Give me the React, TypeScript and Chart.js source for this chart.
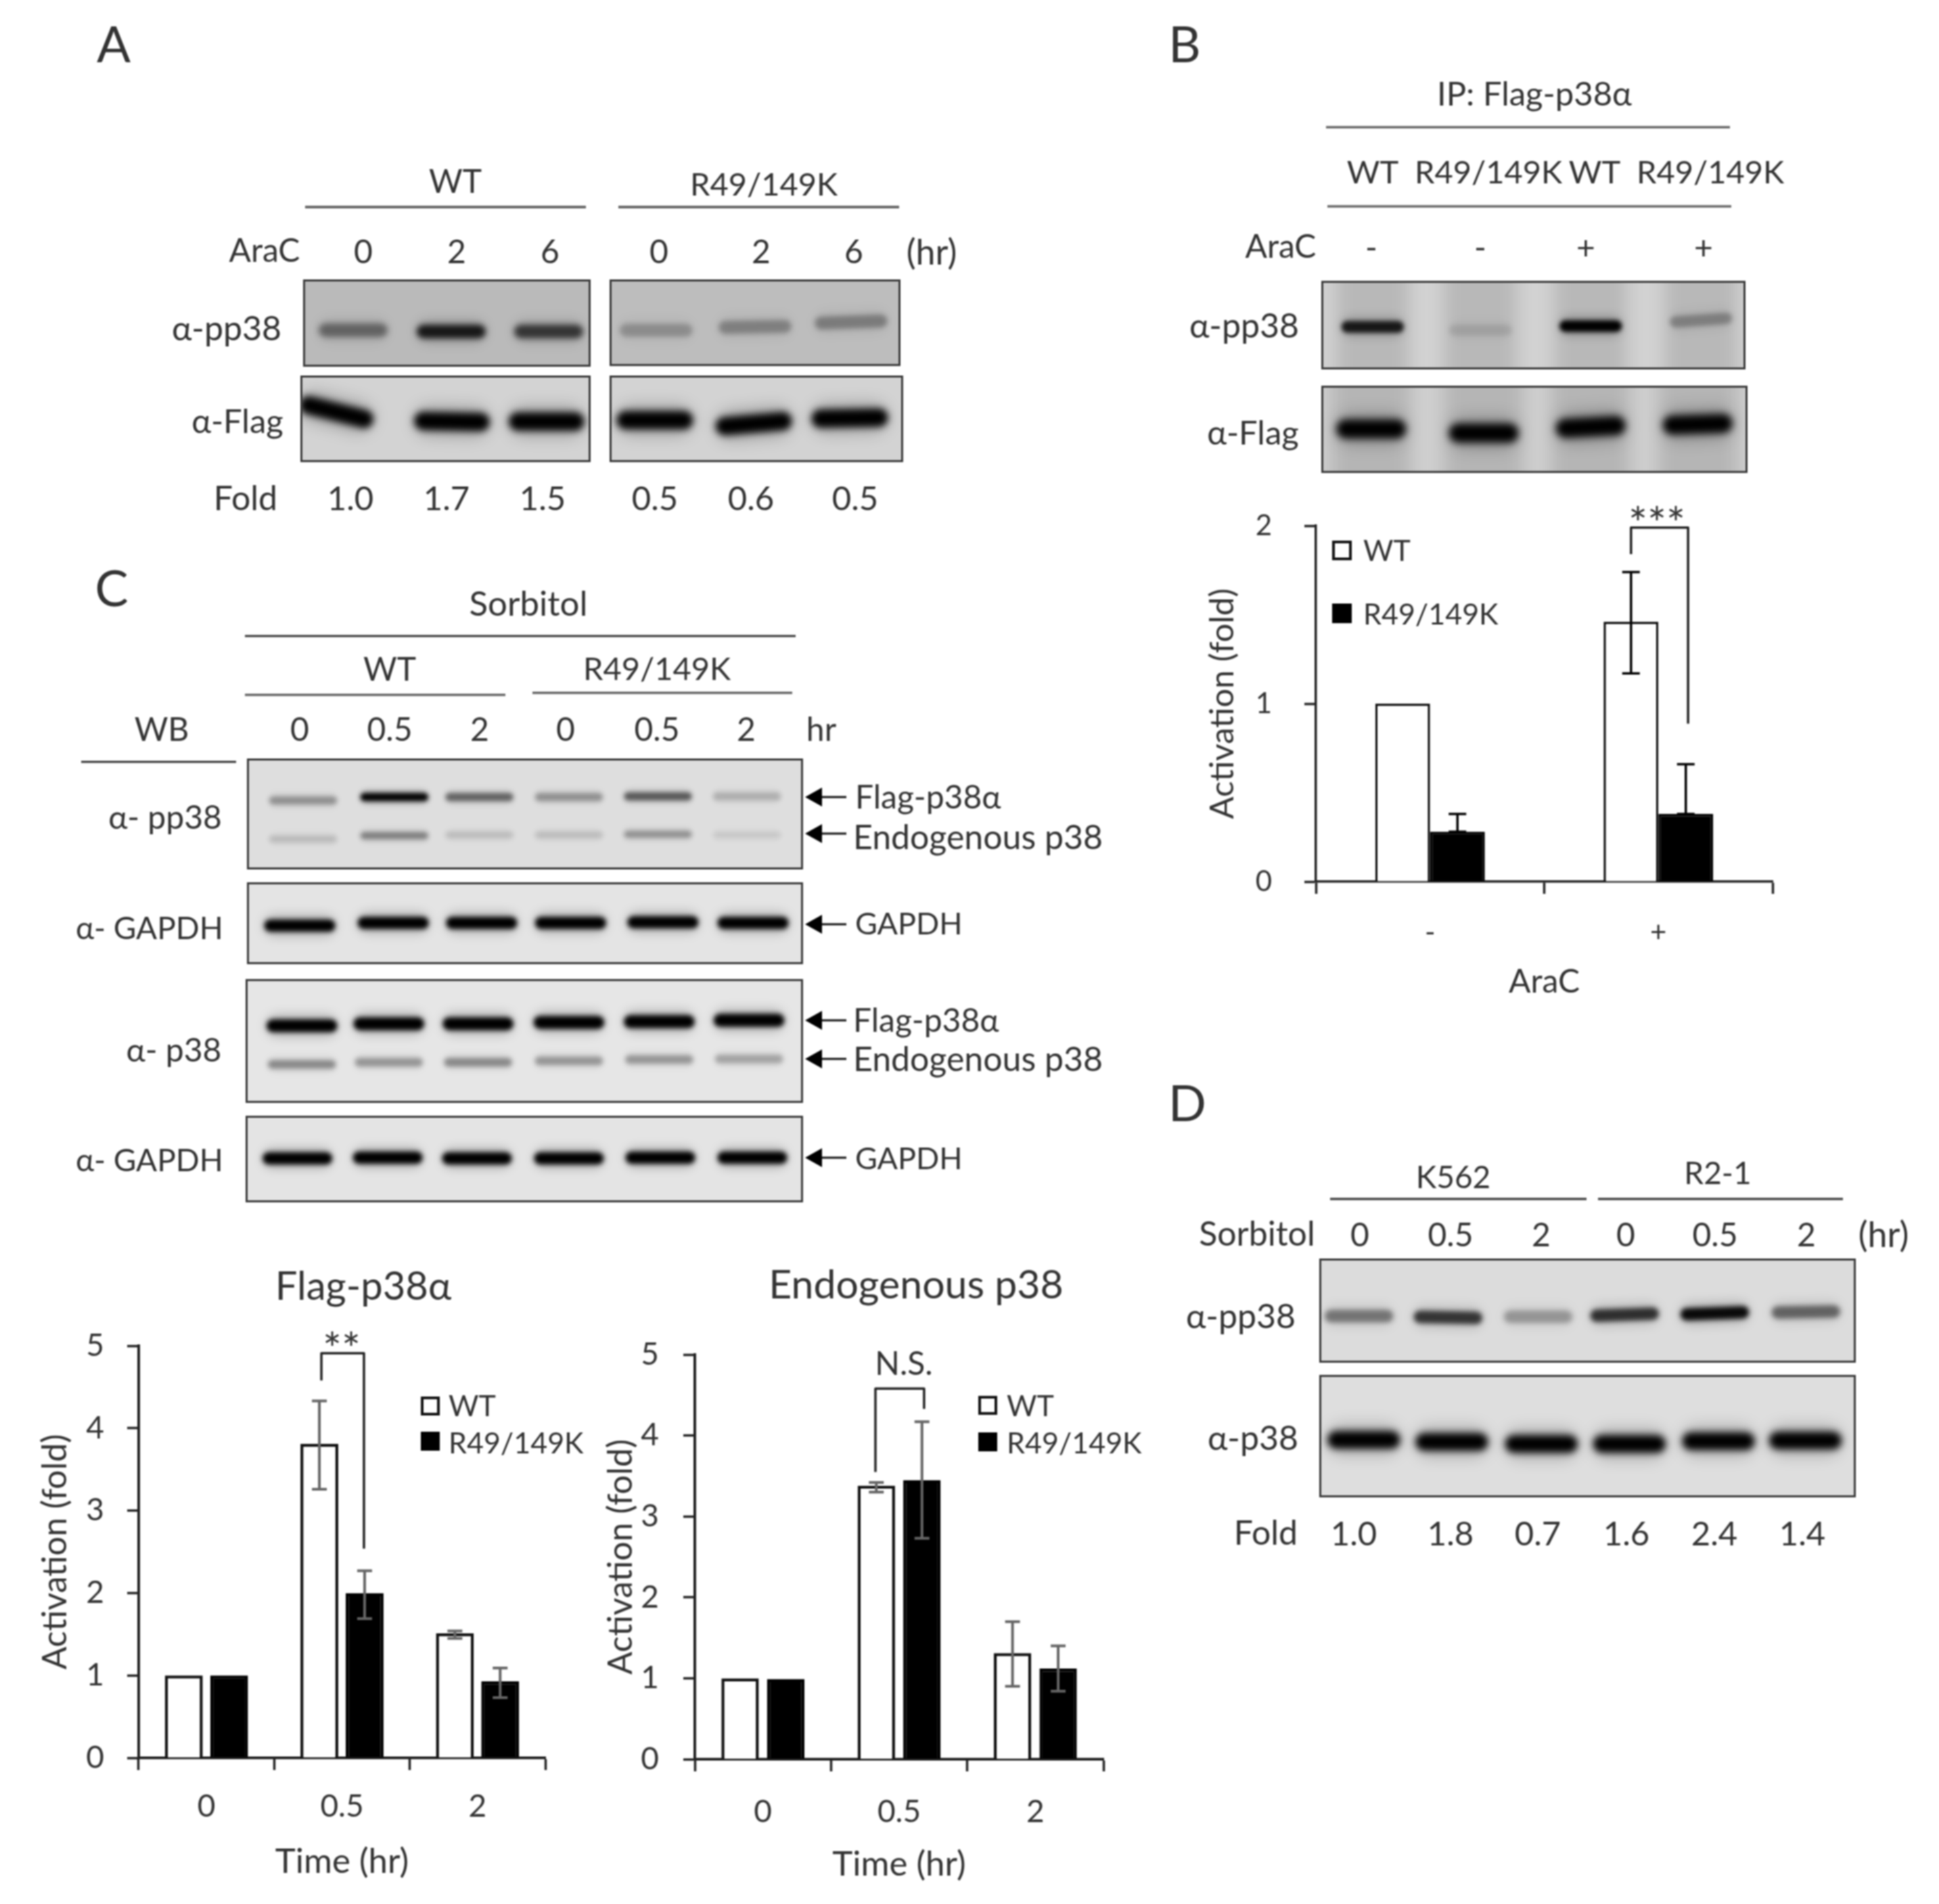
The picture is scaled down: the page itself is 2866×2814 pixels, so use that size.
import React, { useEffect, useRef } from "react";
import { Chart, registerables } from "chart.js";

Chart.register(...registerables);

const FONT = "Lato, 'Noto Sans', sans-serif";
const INK = "#333333";

// ---------- bar chart data ----------
const timeLabels = ["0", "0.5", "2"];
const araCLabels = ["-", "+"];
const seriesNames = ["WT", "R49/149K"];

const flagWT = [1.0, 3.81, 1.51];
const flagWTLow = [1.0, 3.26, 1.45];
const flagWTHigh = [1.0, 4.33, 1.54];
const flagMut = [1.0, 2.0, 0.93];
const flagMutLow = [1.0, 1.69, 0.73];
const flagMutHigh = [1.0, 2.27, 1.09];

const endoWT = [1.0, 3.38, 1.31];
const endoWTLow = [1.0, 3.3, 0.9];
const endoWTHigh = [1.0, 3.42, 1.7];
const endoMut = [0.99, 3.45, 1.12];
const endoMutLow = [0.99, 2.73, 0.84];
const endoMutHigh = [0.99, 4.17, 1.4];

const araWT = [1.0, 1.46];
const araWTLow = [1.0, 1.17];
const araWTHigh = [1.0, 1.74];
const araMut = [0.28, 0.38];
const araMutLow = [0.28, 0.38];
const araMutHigh = [0.38, 0.66];

// ---------- blot band data: [lane %, migration %, density] ----------
const bandsA1 = [[17.4, 58.1, 0.42], [51.5, 59.7, 0.85], [85.4, 59.7, 0.68]];
const bandsA2 = [[16.0, 58.6, 0.22], [50.0, 54.7, 0.28], [83.0, 49.2, 0.3]];
const bandsA3 = [[12.4, 42.2, 1], [52.2, 53.1, 1], [84.8, 53.1, 1]];
const bandsA4 = [[15.4, 51.6, 1], [49.1, 55.5, 1], [81.8, 49.2, 1]];
const bandsB1 = [[12.1, 52, 0.85], [37.5, 55.7, 0.1], [63.5, 51.1, 1], [89.5, 44.3, 0.27]];
const bandsB2 = [[11.7, 49.6, 1], [38.1, 54.3, 1], [63.2, 47.3, 1], [88.3, 44.2, 1]];
const bandsC1a = [[10.1, 37.8, 0.3], [26.5, 34.8, 1], [41.8, 34.8, 0.5], [57.9, 34.8, 0.3], [73.9, 34.1, 0.55], [89.9, 34.1, 0.18]];
const bandsC1b = [[10.1, 72.6, 0.13], [26.5, 69.5, 0.38], [41.8, 68.9, 0.12], [57.9, 68.9, 0.12], [73.9, 68.3, 0.3], [89.9, 68.9, 0.08]];
const bandsC2 = [[9.5, 52.9, 1], [26.3, 49.6, 1], [42.2, 49.6, 1], [58.2, 49.6, 1], [74.8, 48.8, 1], [91, 49.6, 1]];
const bandsC3a = [[10.1, 37.7, 1], [25.7, 36.1, 1], [41.7, 36.1, 1], [58, 35, 1], [74.2, 34.4, 1], [90.3, 33.3, 1]];
const bandsC3b = [[10.1, 68.9, 0.35], [25.7, 67.2, 0.3], [41.7, 67.2, 0.35], [58, 66.1, 0.3], [74.2, 65, 0.3], [90.3, 64.5, 0.25]];
const bandsC4 = [[9.3, 49.2, 1], [25.5, 48.4, 1], [41.5, 49.2, 1], [58, 49.2, 1], [74.4, 48.4, 1], [90.9, 48.4, 1]];
const bandsD1 = [[7.4, 55.2, 0.42], [24, 56.5, 0.72], [40.8, 55.8, 0.28], [56.9, 53.9, 0.75], [73.7, 52.6, 0.95], [90.7, 51.3, 0.5]];
const bandsD2 = [[8.3, 53, 1], [24.7, 54.7, 1], [41.4, 56.4, 1], [57.8, 56.4, 1], [74.4, 54.1, 1], [90.6, 53.6, 1]];

const tiltsA2 = [0, -1, -2];
const tiltsA3 = [14, 1, 0];
const tiltsA4 = [0, -5, -1];
const tiltsB1 = [0, 0, 0, -4];
const tiltsB2 = [0, 0, -3, -2];
const tiltsD1 = [0, 1, 0, -2, -2, -1];

// ---------- text ----------
const aTimes = ["0", "2", "6", "0", "2", "6"];
const aFold = ["1.0", "1.7", "1.5", "0.5", "0.6", "0.5"];
const bMutants = ["WT", "R49/149K", "WT", "R49/149K"];
const bAraC = ["-", "-", "+", "+"];
const cTimes = ["0", "0.5", "2", "0", "0.5", "2"];
const dTimes = ["0", "0.5", "2", "0", "0.5", "2"];
const dFold = ["1.0", "1.8", "0.7", "1.6", "2.4", "1.4"];

type Lab = [string, number, number, number?];
const S = 48;
const zip = (t: string[], xs: number[], y: number, size?: number): Lab[] => t.map((s, i) => [s, xs[i], y, size] as Lab);

const labels: Lab[] = [
  ["A", 168, 64, 74], ["B", 1751, 64, 74], ["C", 165, 868, 74], ["D", 1755, 1629, 74],
  // A
  ["WT", 673, 267], ["R49/149K", 1129, 271, 47], ["AraC", 391, 369],
  ...zip(aTimes, [537, 675, 813, 974, 1125, 1262], 371), ["(hr)", 1377, 371, 52],
  ["α-pp38", 335, 484, 50], ["α-Flag", 351, 621, 49], ["Fold", 363, 735, 50],
  ...zip(aFold, [518, 660, 802, 968, 1110, 1264], 735, 49),
  // B
  ["IP: Flag-p38α", 2268, 137, 49],
  ...zip(bMutants, [2029, 2200, 2357, 2528], 253, 47),
  ["AraC", 1893, 363], ...zip(bAraC, [2027, 2188, 2344, 2518], 365),
  ["α-pp38", 1839, 480, 50], ["α-Flag", 1852, 638, 49],
  // C
  ["Sorbitol", 781, 890, 51], ["WT", 576, 988], ["R49/149K", 971, 987, 47], ["WB", 239, 1077],
  ...zip(cTimes, [443, 576, 709, 836, 971, 1103], 1077), ["hr", 1214, 1077],
  ["α- pp38", 244, 1207, 48], ["α- GAPDH", 221, 1371, 46], ["α- p38", 257, 1551, 48], ["α- GAPDH", 221, 1714, 46],
  // D
  ["K562", 2148, 1739, 46], ["R2-1", 2539, 1733, 46], ["Sorbitol", 1858, 1822, 50],
  ...zip(dTimes, [2010, 2144, 2278, 2403, 2535, 2670], 1824), ["(hr)", 2784, 1823, 52],
  ["α-pp38", 1834, 1944, 50], ["α-p38", 1852, 2124, 50], ["Fold", 1871, 2264, 50],
  ...zip(dFold, [2001, 2144, 2273, 2404, 2534, 2664], 2265, 49),
  // chart titles and significance marks
  ["Flag-p38α", 537, 1899, 58], ["Endogenous p38", 1354, 1896, 59],
  ["**", 505, 1993, 66], ["N.S.", 1336, 2014, 48], ["***", 2449, 773, 66],
];

const arrowLabels: Lab[] = [
  ["Flag-p38α", 1264, 1177, 48], ["Endogenous p38", 1261, 1236, 50], ["GAPDH", 1264, 1364, 45],
  ["Flag-p38α", 1261, 1507, 48], ["Endogenous p38", 1261, 1564, 50], ["GAPDH", 1264, 1711, 45],
];
const arrowRows = [1178, 1232, 1366, 1508, 1565, 1711];

// x1, x2, y, colour, width
const rules: [number, number, number, string, number][] = [
  [451, 866, 306, "#666", 4], [914, 1329, 306, "#666", 4],
  [1960, 2557, 188, "#666", 3.5], [1962, 2559, 305, "#666", 3.5],
  [362, 1176, 940, "#333", 3], [362, 747, 1027, "#666", 3.5], [787, 1171, 1024, "#666", 3.5],
  [120, 349, 1126, "#333", 3], [1966, 2345, 1772, "#444", 3.5], [2362, 2724, 1772, "#444", 3.5],
];

// legend: box x, box y (WT), box y (mutant), box size, text x, text y (WT), text y (mutant)
const legends = [
  [622, 2064, 2116, 28, 663, 2076, 2131],
  [1446, 2063, 2117, 28, 1488, 2076, 2131],
  [1969, 799, 892, 29, 2015, 812, 906],
];

// ---------- plugins ----------
const errorBars = (color: string, cap: number, width: number) => ({
  id: "errorBars",
  afterDatasetsDraw(chart: any) {
    const { ctx, scales } = chart;
    ctx.save();
    ctx.strokeStyle = color;
    ctx.lineWidth = width;
    chart.data.datasets.forEach((ds: any, i: number) => {
      chart.getDatasetMeta(i).data.forEach((bar: any, j: number) => {
        if (ds.errLow[j] === ds.errHigh[j]) return;
        const lo = scales.y.getPixelForValue(ds.errLow[j]);
        const hi = scales.y.getPixelForValue(ds.errHigh[j]);
        ctx.beginPath();
        ctx.moveTo(bar.x, lo); ctx.lineTo(bar.x, hi);
        ctx.moveTo(bar.x - cap, hi); ctx.lineTo(bar.x + cap, hi);
        ctx.moveTo(bar.x - cap, lo); ctx.lineTo(bar.x + cap, lo);
        ctx.stroke();
      });
    });
    ctx.restore();
  },
});

const bracket = (lane: number, l: number, r: number, top: number, leftEnd: number, rightEnd: number) => ({
  id: "bracket",
  afterDatasetsDraw(chart: any) {
    const { ctx, scales } = chart;
    const c = scales.x.getPixelForValue(lane);
    const cw = scales.x.getPixelForValue(1) - scales.x.getPixelForValue(0);
    const y = (v: number) => scales.y.getPixelForValue(v);
    ctx.save();
    ctx.strokeStyle = "#222";
    ctx.lineWidth = 3.5;
    ctx.lineJoin = "round";
    ctx.beginPath();
    ctx.moveTo(c + l * cw, y(leftEnd));
    ctx.lineTo(c + l * cw, y(top));
    ctx.lineTo(c + r * cw, y(top));
    ctx.lineTo(c + r * cw, y(rightEnd));
    ctx.stroke();
    ctx.restore();
  },
});

type BarSpec = {
  box: [number, number, number, number];
  plot: [number, number, number, number];
  cats: string[];
  wt: number[]; wtLow: number[]; wtHigh: number[];
  mut: number[]; mutLow: number[]; mutHigh: number[];
  max: number; cat: number; bar: number; border: number; axis: number;
  yPad: number; xPad: number; yTitlePad: number; xTitle: string; xTitlePad: number; xTitleSize: number; yTitleSize: number;
  tickSize: number; err: any; brk: any;
};

function BarChart({ s }: { s: BarSpec }) {
  const ref = useRef<HTMLCanvasElement>(null);
  useEffect(() => {
    const [l, t, w, h] = s.box;
    const [pl, pt, pr, pb] = s.plot;
    const tickColor = "#222";
    const chart = new Chart(ref.current!, {
      type: "bar",
      data: {
        labels: s.cats,
        datasets: [
          { label: seriesNames[0], data: s.wt, backgroundColor: "#fff", borderColor: "#111", borderWidth: s.border, errLow: s.wtLow, errHigh: s.wtHigh } as any,
          { label: seriesNames[1], data: s.mut, backgroundColor: "#000", borderColor: "#000", borderWidth: s.border, errLow: s.mutLow, errHigh: s.mutHigh } as any,
        ],
      },
      options: {
        animation: false,
        responsive: false,
        devicePixelRatio: 1,
        categoryPercentage: s.cat,
        barPercentage: s.bar,
        layout: { padding: { top: pt - t, right: l + w - pr, left: 0, bottom: 0 } },
        plugins: { legend: { display: false }, tooltip: { enabled: false } },
        scales: {
          x: {
            afterFit: (a: any) => { a.height = t + h - pb; a.paddingLeft = 0; a.paddingRight = 0; },
            grid: { drawOnChartArea: false, drawTicks: true, tickLength: 18, tickWidth: 3.5, tickColor },
            border: { color: tickColor, width: s.axis },
            ticks: { padding: s.xPad, color: "#333", font: { family: FONT, size: s.tickSize }, maxRotation: 0 },
            title: { display: true, text: s.xTitle, color: "#333", font: { family: FONT, size: s.xTitleSize }, padding: { top: 0, bottom: s.xTitlePad } },
          },
          y: {
            min: 0, max: s.max,
            afterFit: (a: any) => { a.width = pl - l; a.paddingTop = 0; a.paddingBottom = 0; },
            grid: { drawOnChartArea: false, drawTicks: true, tickLength: 17, tickWidth: 3.5, tickColor },
            border: { color: tickColor, width: s.axis },
            ticks: { stepSize: 1, padding: s.yPad, color: "#333", font: { family: FONT, size: s.tickSize } },
            title: { display: true, text: "Activation (fold)", color: "#333", font: { family: FONT, size: s.yTitleSize }, padding: { top: s.yTitlePad, bottom: 0 } },
          },
        } as any,
      } as any,
      plugins: [errorBars(s.err[0], s.err[1], s.err[2]), bracket(s.brk[0], s.brk[1], s.brk[2], s.brk[3], s.brk[4], s.brk[5])],
    });
    return () => chart.destroy();
  }, [s]);
  const [l, t, w, h] = s.box;
  return <canvas ref={ref} width={w} height={h} style={{ position: "absolute", left: l, top: t, width: w, height: h }} />;
}

type Group = { rows: number[][]; w: number; h: number; tilts?: number[] };
type BlotSpec = { rect: [number, number, number, number]; bg: string; shade: number; groups: Group[] };

function Blot({ s }: { s: BlotSpec }) {
  const ref = useRef<HTMLCanvasElement>(null);
  useEffect(() => {
    const painter = {
      id: "bandPainter",
      beforeDatasetsDraw(chart: any) {
        const { ctx, width, height, scales } = chart;
        ctx.save();
        ctx.fillStyle = s.bg;
        ctx.fillRect(0, 0, width, height);
        ctx.beginPath(); ctx.rect(0, 0, width, height); ctx.clip();
        if (s.shade > 0) {
          ctx.filter = "blur(12px)";
          ctx.fillStyle = `rgba(0,0,0,${s.shade})`;
          chart.getDatasetMeta(0).data.forEach((p: any) => {
            const bw = (s.groups[0].w / 100) * width + 14;
            ctx.fillRect(p.x - bw / 2, -30, bw, height + 60);
          });
        }
        s.groups.forEach((g, gi) => {
          const bw = scales.x.getPixelForValue(g.w) - scales.x.getPixelForValue(0);
          const bh = Math.abs(scales.y.getPixelForValue(g.h) - scales.y.getPixelForValue(0));
          const pass = (scale: number, alpha: number, blur: number) => {
            ctx.filter = `blur(${blur}px)`;
            chart.getDatasetMeta(gi).data.forEach((p: any, i: number) => {
              ctx.save();
              ctx.translate(p.x, p.y);
              ctx.rotate(((g.tilts ? g.tilts[i] : 0) * Math.PI) / 180);
              ctx.fillStyle = `rgba(0,0,0,${g.rows[i][2] * alpha})`;
              const hh = bh * scale;
              ctx.beginPath();
              (ctx as any).roundRect(-bw / 2, -hh / 2, bw, hh, hh / 2);
              ctx.fill();
              ctx.restore();
            });
          };
          pass(1.7, 0.22, Math.max(5, bh * 0.4));
          pass(1, 1, Math.max(3, bh * 0.2));
        });
        ctx.restore();
      },
      afterDatasetsDraw(chart: any) {
        const { ctx, width, height } = chart;
        ctx.save();
        ctx.strokeStyle = "#3a3a3a";
        ctx.lineWidth = 3;
        ctx.strokeRect(1.5, 1.5, width - 3, height - 3);
        ctx.restore();
      },
    };
    const chart = new Chart(ref.current!, {
      type: "scatter",
      data: {
        datasets: s.groups.map((g) => ({
          data: g.rows.map((r) => ({ x: r[0], y: r[1] })),
          pointRadius: 0,
        })),
      },
      options: {
        animation: false,
        responsive: false,
        devicePixelRatio: 1,
        plugins: { legend: { display: false }, tooltip: { enabled: false } },
        scales: {
          x: { type: "linear", min: 0, max: 100, display: false },
          y: { type: "linear", min: 0, max: 100, reverse: true, display: false },
        },
      } as any,
      plugins: [painter],
    });
    return () => chart.destroy();
  }, [s]);
  const [l, t, r, b] = s.rect;
  return <canvas ref={ref} width={r - l} height={b - t} style={{ position: "absolute", left: l, top: t, width: r - l, height: b - t }} />;
}

const blots: BlotSpec[] = [
  { rect: [448, 413, 873, 542], bg: "#bababa", shade: 0, groups: [{ rows: bandsA1, w: 24, h: 15.5 }] },
  { rect: [901, 413, 1331, 541], bg: "#bdbdbd", shade: 0, groups: [{ rows: bandsA2, w: 25, h: 15, tilts: tiltsA2 }] },
  { rect: [444, 555, 873, 683], bg: "#d3d3d3", shade: 0, groups: [{ rows: bandsA3, w: 26, h: 21, tilts: tiltsA3 }] },
  { rect: [901, 555, 1335, 683], bg: "#d3d3d3", shade: 0, groups: [{ rows: bandsA4, w: 26, h: 21, tilts: tiltsA4 }] },
  { rect: [1953, 415, 2580, 546], bg: "#d2d2d2", shade: 0.12, groups: [{ rows: bandsB1, w: 14.7, h: 13, tilts: tiltsB1 }] },
  { rect: [1953, 570, 2583, 699], bg: "#cfcfcf", shade: 0.12, groups: [{ rows: bandsB2, w: 16.3, h: 21.7, tilts: tiltsB2 }] },
  { rect: [365, 1121, 1187, 1285], bg: "#dedede", shade: 0, groups: [{ rows: bandsC1a, w: 12.2, h: 7.3 }, { rows: bandsC1b, w: 12.2, h: 6.5 }] },
  { rect: [365, 1304, 1187, 1425], bg: "#e4e4e4", shade: 0, groups: [{ rows: bandsC2, w: 12.8, h: 15 }] },
  { rect: [363, 1447, 1187, 1630], bg: "#e6e6e6", shade: 0, groups: [{ rows: bandsC3a, w: 12.7, h: 10.5 }, { rows: bandsC3b, w: 12.2, h: 7 }] },
  { rect: [363, 1649, 1187, 1777], bg: "#e4e4e4", shade: 0, groups: [{ rows: bandsC4, w: 12.5, h: 14 }] },
  { rect: [1950, 1860, 2743, 2014], bg: "#dcdcdc", shade: 0, groups: [{ rows: bandsD1, w: 12.8, h: 12, tilts: tiltsD1 }] },
  { rect: [1950, 2032, 2743, 2213], bg: "#dedede", shade: 0, groups: [{ rows: bandsD2, w: 13.5, h: 14.4 }] },
];

const barSpecs: BarSpec[] = [
  {
    box: [30, 1940, 850, 860], plot: [205, 1989, 806, 2598], cats: timeLabels,
    wt: flagWT, wtLow: flagWTLow, wtHigh: flagWTHigh, mut: flagMut, mutLow: flagMutLow, mutHigh: flagMutHigh,
    max: 5, cat: 0.668, bar: 0.836, border: 4.5, axis: 4, yPad: 34, xPad: 27, yTitlePad: 22, xTitle: "Time (hr)", xTitlePad: 18, xTitleSize: 51, yTitleSize: 50, tickSize: 46,
    err: ["#666", 11, 4], brk: [1, -0.152, 0.162, 4.91, 4.58, 2.54],
  },
  {
    box: [880, 1950, 840, 850], plot: [1027, 2002, 1631, 2600], cats: timeLabels,
    wt: endoWT, wtLow: endoWTLow, wtHigh: endoWTHigh, mut: endoMut, mutLow: endoMutLow, mutHigh: endoMutHigh,
    max: 5, cat: 0.67, bar: 0.82, border: 4.5, axis: 4, yPad: 36, xPad: 33, yTitlePad: 8, xTitle: "Time (hr)", xTitlePad: 14, xTitleSize: 51, yTitleSize: 50, tickSize: 46,
    err: ["#666", 11, 4], brk: [1, -0.174, 0.183, 4.58, 3.55, 4.33],
  },
  {
    box: [1760, 730, 900, 750], plot: [1945, 777, 2620, 1303], cats: araCLabels,
    wt: araWT, wtLow: araWTLow, wtHigh: araWTHigh, mut: araMut, mutLow: araMutLow, mutHigh: araMutHigh,
    max: 2, cat: 0.48, bar: 1, border: 3.5, axis: 3.5, yPad: 48, xPad: 32, yTitlePad: 18, xTitle: "AraC", xTitlePad: 0, xTitleSize: 48, yTitleSize: 49, tickSize: 42,
    err: ["#000", 13, 3.5], brk: [1, -0.12, 0.13, 1.99, 1.84, 0.888],
  },
];

function Txt({ l }: { l: Lab }) {
  const [text, x, y, own] = l;
  return (
    <div style={{ position: "absolute", left: x, top: y, transform: "translate(-50%,-50%)", fontFamily: FONT, fontSize: own ?? S, lineHeight: 1, color: INK, whiteSpace: "nowrap" }}>
      {text}
    </div>
  );
}

export default function App() {
  return (
    <div style={{ position: "absolute", left: 0, top: 0, width: 2866, height: 2814, background: "#fff", overflow: "hidden", filter: "blur(0.9px)" }}>
      {barSpecs.map((s, i) => <BarChart key={i} s={s} />)}
      {blots.map((s, i) => <Blot key={i} s={s} />)}
      <svg width={2866} height={2814} style={{ position: "absolute", left: 0, top: 0 }}>
        {rules.map((r, i) => <line key={i} x1={r[0]} x2={r[1]} y1={r[2]} y2={r[2]} stroke={r[3]} strokeWidth={r[4]} />)}
        {arrowRows.map((y, i) => (
          <g key={i}>
            <line x1={1210} x2={1251} y1={y} y2={y} stroke="#111" strokeWidth={3} />
            <polygon points={`1190,${y} 1215,${y - 14} 1215,${y + 14}`} fill="#000" />
          </g>
        ))}
        {legends.map((g, i) => (
          <g key={i}>
            <rect x={g[0] + 2} y={g[1] + 2} width={g[3] - 4} height={g[3] - 4} fill="#fff" stroke="#111" strokeWidth={4} />
            <rect x={g[0]} y={g[2]} width={g[3]} height={g[3]} fill="#000" />
          </g>
        ))}
      </svg>
      {labels.map((l, i) => <Txt key={i} l={l} />)}
      {arrowLabels.map((l, i) => (
        <div key={i} style={{ position: "absolute", left: l[1], top: l[2], transform: "translateY(-50%)", fontFamily: FONT, fontSize: l[3], lineHeight: 1, color: INK, whiteSpace: "nowrap" }}>{l[0]}</div>
      ))}
      {legends.map((g, i) => seriesNames.map((n, j) => (
        <div key={`${i}-${j}`} style={{ position: "absolute", left: g[4], top: g[5 + j], transform: "translateY(-50%)", fontFamily: FONT, fontSize: 43, lineHeight: 1, color: INK, whiteSpace: "nowrap" }}>{n}</div>
      )))}
    </div>
  );
}
